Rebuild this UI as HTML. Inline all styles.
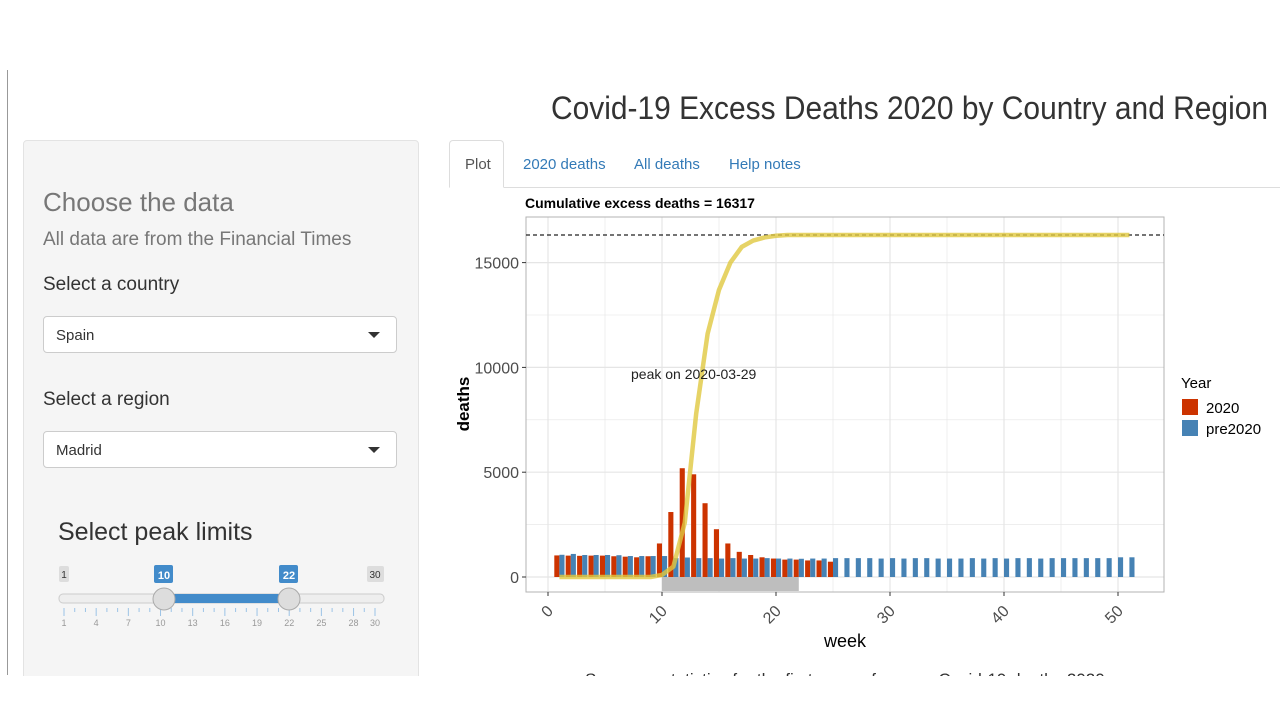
<!DOCTYPE html>
<html><head><meta charset="utf-8">
<style>
body{margin:0;width:1280px;height:720px;background:#fff;position:relative;overflow:hidden;font-family:"Liberation Sans",Arial,sans-serif;}
.abs{position:absolute;}
#panel{left:23px;top:140px;width:394px;height:540px;background:#f5f5f5;border:1px solid #e3e3e3;border-radius:4px;}
.sel{position:absolute;left:19px;width:354px;height:37px;background:#fff;border:1px solid #ccc;border-radius:4px;font-size:15px;color:#333;box-sizing:border-box;padding:10px 12px;}
.sel:after{content:"";position:absolute;right:16px;top:15px;border-left:6px solid transparent;border-right:6px solid transparent;border-top:6px solid #333;}
.lbl{position:absolute;left:19px;font-size:19px;color:#333;}
.tab{position:absolute;top:156px;font-size:15px;color:#337ab7;}
</style></head><body>
<div class="abs" style="left:7px;top:70px;width:1px;height:605px;background:#999"></div>
<svg class="abs" style="left:540px;top:85px" width="740" height="45"><text x="11" y="34" font-size="32" fill="#333" textLength="717" lengthAdjust="spacingAndGlyphs">Covid-19 Excess Deaths 2020 by Country and Region</text></svg>

<div id="panel" class="abs">
  <div class="abs" style="left:19px;top:46px;font-size:26px;color:#777">Choose the data</div>
  <div class="abs" style="left:19px;top:88px;font-size:19px;color:#777">All data are from the Financial Times</div>
  <div class="lbl" style="top:133px">Select a country</div>
  <div class="sel" style="top:175px">Spain</div>
  <div class="lbl" style="top:248px">Select a region</div>
  <div class="sel" style="top:290px">Madrid</div>
  <div class="abs" style="left:34px;top:377px;font-size:25px;color:#333">Select peak limits</div>
  <svg class="abs" style="left:30px;top:420px" width="340" height="70">
    <rect x="5" y="5" width="10" height="16" rx="2" fill="#ddd"/><text x="10" y="17" font-size="10" text-anchor="middle" fill="#333">1</text>
    <rect x="313" y="5" width="17" height="16" rx="2" fill="#ddd"/><text x="321" y="17" font-size="10" text-anchor="middle" fill="#333">30</text>
    <rect x="100" y="4" width="19" height="18" rx="2" fill="#428bca"/><text x="110" y="18" font-size="11" font-weight="bold" text-anchor="middle" fill="#fff">10</text>
    <rect x="225" y="4" width="19" height="18" rx="2" fill="#428bca"/><text x="235" y="18" font-size="11" font-weight="bold" text-anchor="middle" fill="#fff">22</text>
    <rect x="5" y="33" width="325" height="9" rx="4" fill="#eee" stroke="#ccc"/>
    <rect x="110" y="33" width="125" height="9" fill="#428bca"/>
    <g id="ticks" stroke="#9cc3e6"></g>
    <g id="ticklbl" font-size="9" fill="#999" text-anchor="middle"></g>
    <circle cx="110" cy="38" r="11" fill="#ddd" stroke="#aaa"/>
    <circle cx="235" cy="38" r="11" fill="#ddd" stroke="#aaa"/>
  </svg>
</div>

<div class="abs" style="left:449px;top:187px;width:831px;height:1px;background:#ddd"></div>
<div class="abs" style="left:449px;top:140px;width:55px;height:48px;border:1px solid #ddd;border-bottom:1px solid #fff;border-radius:4px 4px 0 0;background:#fff;box-sizing:border-box"></div>
<div class="tab" style="left:465px;color:#555">Plot</div>
<div class="tab" style="left:523px">2020 deaths</div>
<div class="tab" style="left:634px">All deaths</div>
<div class="tab" style="left:729px">Help notes</div>
<div class="abs" style="left:585px;top:670px;font-size:17px;color:#333;white-space:nowrap;height:6px;overflow:hidden">Summary statistics for the first wave of excess Covid-19 deaths 2020</div>
<div class="abs" style="left:0;top:676px;width:1280px;height:44px;background:#fff"></div>

<svg id="chart" class="abs" style="left:0;top:0" width="1280" height="720"></svg>

<script>
const weeks2020 = [1,2,3,4,5,6,7,8,9,10,11,12,13,14,15,16,17,18,19,20,21,22,23,24,25];
const deaths2020 = [1030,1020,1010,1020,1020,990,970,940,990,1600,3100,5190,4900,3520,2280,1600,1200,1050,940,880,830,830,790,790,730];
const weeksPre = [1,2,3,4,5,6,7,8,9,10,11,12,13,14,15,16,17,18,19,20,21,22,23,24,25,26,27,28,29,30,31,32,33,34,35,36,37,38,39,40,41,42,43,44,45,46,47,48,49,50,51];
const deathsPre = [1060,1100,1050,1050,1050,1040,1000,1000,1000,1000,900,930,900,900,880,900,880,880,900,880,880,870,880,880,900,900,900,900,880,900,880,900,900,880,880,880,900,880,900,880,900,900,880,900,900,900,900,900,900,940,940];
const cumWeeks = [1,2,3,4,5,6,7,8,9,10,11,12,13,14,15,16,17,18,19,20,21,25,30,35,40,45,51];
const cumDeaths = [0,0,0,0,0,0,0,0,0,100,500,2600,7800,11600,13700,15000,15750,16050,16200,16280,16317,16317,16317,16317,16317,16317,16317];
const totalExcess = 16317;
const peakLabel = "peak on 2020-03-29";
const peakRange = [10,22];
const yTicks = [0,5000,10000,15000];
const xTicks = [0,10,20,30,40,50];

const NS="http://www.w3.org/2000/svg";
const svg=document.getElementById('chart');
function X(w){return 548+w*11.4;}
function Y(d){return 577-d*0.02096;}
function mk(tag,attrs,parent){const e=document.createElementNS(NS,tag);for(const k in attrs)e.setAttribute(k,attrs[k]);(parent||svg).appendChild(e);return e;}
const PL=526,PR=1164,PT=217,PB=592;
for(let w=-5;w<=55;w+=5){const x=X(w);if(x<PL||x>PR)continue;const g=mk('line',{x1:x,x2:x,y1:PT,y2:PB,stroke:'#e5e5e5','stroke-width':w%10===0?1.2:0.6});

}
for(let d=-2500;d<=17500;d+=2500){const y=Y(d);if(y<PT||y>PB)continue;const g=mk('line',{x1:PL,x2:PR,y1:y,y2:y,stroke:'#e5e5e5','stroke-width':d%5000===0?1.2:0.6});

}
const border=mk('rect',{x:PL,y:PT,width:PR-PL,height:PB-PT,fill:'none',stroke:'#b3b3b3'});


const band=mk('rect',{x:X(peakRange[0]),y:Y(0),width:X(peakRange[1])-X(peakRange[0]),height:PB-Y(0)-1,fill:'#bebebe'});


const bw=5.1;
weeks2020.forEach((w,i)=>{const b=mk('rect',{x:X(w)-bw,y:Y(deaths2020[i]),width:bw,height:Y(0)-Y(deaths2020[i]),fill:'#cc3300'});

});
weeksPre.forEach((w,i)=>{const b=mk('rect',{x:X(w),y:Y(deathsPre[i]),width:bw,height:Y(0)-Y(deathsPre[i]),fill:'#4682b4'});

});
const tl=mk('line',{x1:PL,x2:PR,y1:Y(totalExcess),y2:Y(totalExcess),stroke:'#222','stroke-dasharray':'4,3','stroke-width':1.2});


const cp=mk('polyline',{points:cumWeeks.map((w,i)=>X(w)+','+Y(cumDeaths[i])).join(' '),fill:'none',stroke:'#e0c840','stroke-opacity':0.8,'stroke-width':4.5,'stroke-linejoin':'round'});


const pk=mk('text',{x:631,y:379,'font-size':14,fill:'#222'});pk.textContent=peakLabel;


const st=mk('text',{x:525,y:208,'font-size':14,'font-weight':'bold',fill:'#000'});st.textContent='Cumulative excess deaths = '+totalExcess;


yTicks.forEach(d=>{const t=mk('text',{x:519,y:Y(d)+6,'font-size':16,fill:'#4d4d4d','text-anchor':'end'});t.textContent=d;


mk('line',{x1:522,x2:526,y1:Y(d),y2:Y(d),stroke:'#333'});});
xTicks.forEach(w=>{mk('line',{x1:X(w),x2:X(w),y1:PB,y2:PB+4,stroke:'#333'});
const t=mk('text',{x:X(w)+6,y:PB+20,'font-size':16,fill:'#4d4d4d','text-anchor':'end',transform:`rotate(-45 ${X(w)+6} ${PB+20})`});t.textContent=w;

});
const xt=mk('text',{x:845,y:647,'font-size':18,fill:'#000','text-anchor':'middle'});xt.textContent='week';


const yt=mk('text',{x:469,y:404,'font-size':17,'font-weight':'bold',fill:'#000','text-anchor':'middle',transform:'rotate(-90 469 404)'});yt.textContent='deaths';


const lt=mk('text',{x:1181,y:388,'font-size':15,fill:'#000'});lt.textContent='Year';


[['2020','#cc3300',399],['pre2020','#4682b4',420]].forEach(([n,c,y])=>{
const r=mk('rect',{x:1182,y:y,width:16,height:16,fill:c});


const t=mk('text',{x:1206,y:y+14,'font-size':15,fill:'#000'});t.textContent=n;

});
const tg=document.getElementById('ticks'),tlg=document.getElementById('ticklbl');
for(let v=1;v<=30;v++){const x=10+(v-1)*(311/29);const major=(v-1)%3===0||v===30;
mk('line',{x1:x,x2:x,y1:47,y2:major?55:51},tg);
if(major){const t=mk('text',{x:x,y:65},tlg);t.textContent=v;}}
</script>
</body></html>
